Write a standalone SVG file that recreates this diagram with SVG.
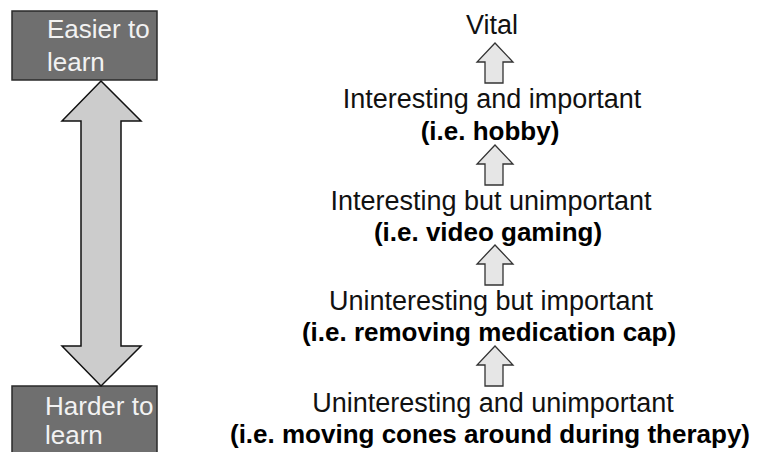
<svg xmlns="http://www.w3.org/2000/svg" width="759" height="452" viewBox="0 0 759 452">
  <style>
    .box { fill: #6f6f6f; stroke: #2a2a2a; stroke-width: 1.5; }
    .boxtxt { font-family: "Liberation Sans", Arial, sans-serif; font-size: 26px; fill: #f2f2f2; }
    .reg { font-family: "Liberation Sans", Arial, sans-serif; font-size: 27px; fill: #111; text-anchor: middle; }
    .bold { font-family: "Liberation Sans", Arial, sans-serif; font-size: 26px; font-weight: bold; fill: #000; text-anchor: middle; }
    .big { fill: #cccccc; stroke: #111; stroke-width: 1.5; stroke-linejoin: miter; }
    .step { fill: #e6e6e6; stroke: #333; stroke-width: 1.3; stroke-linejoin: miter; }
  </style>
  <defs>
    <!-- small upward block arrow, tip at origin -->
    <path id="upArrow" d="M0,0 L18,19 L8,19 L8,40 L-10,40 L-10,19 L-18,19 Z"/>
  </defs>
  <rect width="759" height="452" fill="#ffffff"/>

  <!-- scale end boxes -->
  <g id="easier">
    <rect class="box" x="12" y="11" width="145" height="69"/>
    <text class="boxtxt" x="47" y="38">Easier to</text>
    <text class="boxtxt" x="47" y="71">learn</text>
  </g>
  <g id="harder">
    <rect class="box" x="12" y="386" width="145" height="70"/>
    <text class="boxtxt" x="45" y="415">Harder to</text>
    <text class="boxtxt" x="45" y="444">learn</text>
  </g>

  <!-- connectors -->
  <g id="connectors">
    <path class="big" d="M101,81 L141,121 L121,121 L121,346 L141,346 L101,386 L62,346 L81,346 L81,121 L62,121 Z"/>
    <use class="step" href="#upArrow" x="495" y="43"/>
    <use class="step" href="#upArrow" x="495" y="145"/>
    <use class="step" href="#upArrow" x="495" y="245"/>
    <use class="step" href="#upArrow" x="495" y="346"/>
  </g>

  <!-- levels -->
  <g id="vital">
    <text class="reg" x="492" y="34">Vital</text>
  </g>
  <g id="level-hobby">
    <text class="reg" x="492" y="108">Interesting and important</text>
    <text class="bold" x="490" y="140">(i.e. hobby)</text>
  </g>
  <g id="level-gaming">
    <text class="reg" x="491" y="210">Interesting but unimportant</text>
    <text class="bold" x="488" y="241">(i.e. video gaming)</text>
  </g>
  <g id="level-medication">
    <text class="reg" x="491" y="310">Uninteresting but important</text>
    <text class="bold" x="489" y="341">(i.e. removing medication cap)</text>
  </g>
  <g id="level-cones">
    <text class="reg" x="493" y="412">Uninteresting and unimportant</text>
    <text class="bold" x="490" y="443">(i.e. moving cones around during therapy)</text>
  </g>
</svg>
